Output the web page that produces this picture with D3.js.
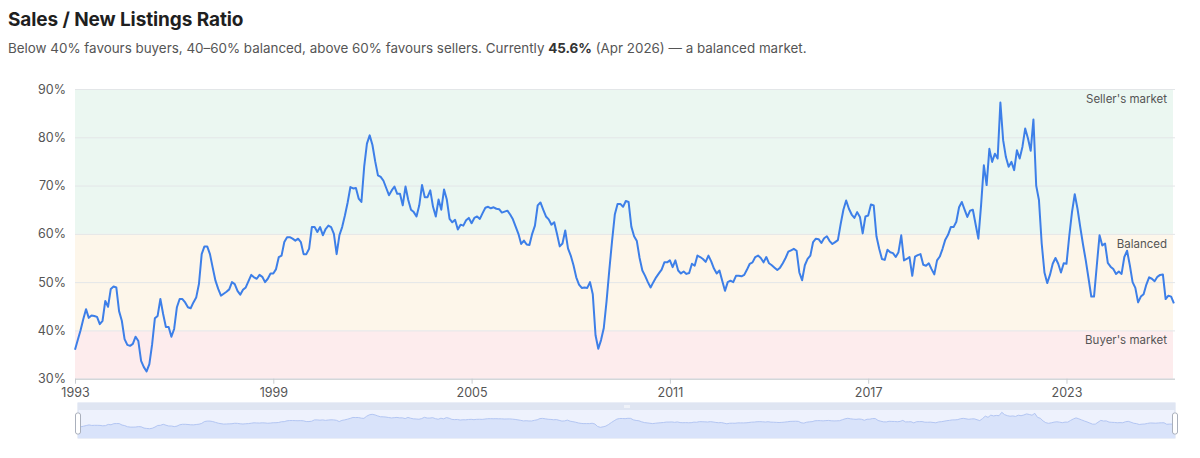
<!DOCTYPE html>
<html>
<head>
<meta charset="utf-8">
<script src="https://cdn.jsdelivr.net/npm/d3@7"></script>
<style>
  body { margin: 0; background: #fff; font-family: Inter, "Helvetica Neue", Arial, sans-serif; }
  h1 { font-size: 19px; font-weight: 700; color: #1f1f1f; margin: 0; position: absolute; left: 8px; top: 8px; letter-spacing: -0.1px; }
  p.sub { font-size: 13.4px; color: #555; margin: 0; position: absolute; left: 8px; top: 40px; }
  p.sub b { color: #333; }
  svg { position: absolute; left: 0; top: 0; }
</style>
</head>
<body>
<h1>Sales / New Listings Ratio</h1>
<p class="sub">Below 40% favours buyers, 40–60% balanced, above 60% favours sellers. Currently <b>45.6%</b> (Apr 2026) — a balanced market.</p>
<svg id="chart"></svg>
<script>
// monthly ratio (%), Jan 1993 .. Apr 2026
var startYear = 1993;
var ratio = [
  36.0, 38.0, 40.0, 42.3, 44.4, 42.6, 43.1, 43.0, 42.8, 41.3, 42.0, 46.1, // 1993
  44.9, 48.6, 49.1, 48.9, 44.0, 42.0, 38.2, 37.0, 36.8, 37.2, 38.7, 37.8, // 1994
  33.7, 32.4, 31.5, 33.0, 37.1, 42.5, 43.0, 46.5, 43.4, 40.7, 40.7, 38.7, // 1995
  40.3, 44.8, 46.5, 46.5, 45.8, 44.8, 44.6, 45.8, 46.8, 49.6, 55.8, 57.4, // 1996
  57.4, 55.8, 53.0, 50.3, 48.6, 47.2, 47.6, 48.0, 48.5, 50.0, 49.6, 48.2, // 1997
  47.4, 48.4, 48.9, 50.2, 51.5, 51.0, 50.7, 51.5, 51.1, 50.0, 50.7, 51.8, // 1998
  51.8, 52.7, 55.2, 55.5, 58.3, 59.3, 59.3, 59.0, 58.6, 59.0, 58.3, 55.8, // 1999
  55.8, 56.9, 61.4, 61.4, 60.4, 61.4, 59.7, 61.0, 61.7, 61.4, 60.0, 55.8, // 2000
  59.7, 61.4, 63.8, 66.5, 69.7, 69.4, 69.5, 67.3, 66.6, 73.9, 78.7, 80.4, // 2001
  78.4, 75.0, 72.1, 71.8, 71.0, 69.5, 68.0, 69.0, 69.8, 68.3, 68.3, 65.9, // 2002
  69.8, 67.0, 65.0, 64.5, 63.6, 65.9, 70.1, 67.6, 67.6, 69.0, 65.6, 63.6, // 2003
  67.1, 65.0, 69.2, 67.1, 63.1, 62.4, 62.9, 60.9, 61.9, 61.7, 62.8, 63.3, // 2004
  62.2, 63.3, 63.6, 63.1, 64.3, 65.4, 65.6, 65.3, 65.5, 65.2, 65.1, 64.4, // 2005
  64.6, 64.8, 64.0, 63.0, 61.5, 60.0, 57.9, 58.6, 57.8, 57.7, 60.0, 61.7, // 2006
  65.9, 66.5, 65.0, 63.6, 63.0, 61.9, 62.4, 60.0, 57.4, 58.0, 60.7, 57.0, // 2007
  55.5, 53.5, 51.0, 49.5, 48.8, 48.9, 48.8, 50.0, 47.5, 39.0, 36.2, 38.0, // 2008
  40.5, 46.0, 52.5, 58.5, 64.0, 66.2, 66.2, 65.6, 66.8, 66.6, 61.5, 59.5, // 2009
  58.5, 55.0, 52.4, 51.3, 50.0, 48.9, 50.0, 51.0, 51.8, 52.6, 54.1, 54.1, // 2010
  54.5, 53.1, 54.5, 52.4, 51.8, 52.2, 51.7, 51.9, 53.8, 53.4, 55.5, 55.2, // 2011
  54.8, 54.2, 55.5, 54.3, 52.8, 51.8, 52.4, 50.3, 48.2, 50.0, 50.3, 50.0, // 2012
  51.3, 51.3, 51.2, 51.5, 52.6, 53.8, 54.1, 55.2, 55.5, 55.0, 54.1, 55.2, // 2013
  53.9, 53.5, 53.0, 52.5, 53.0, 53.9, 55.0, 56.3, 56.6, 56.9, 56.5, 52.0, // 2014
  50.4, 53.5, 54.8, 55.5, 58.3, 59.0, 58.9, 58.1, 59.1, 59.5, 58.5, 57.9, // 2015
  58.3, 58.7, 62.0, 65.0, 66.9, 65.2, 64.0, 63.3, 64.5, 63.5, 60.1, 63.6, // 2016
  63.8, 66.1, 65.9, 59.5, 56.9, 54.8, 54.6, 56.7, 56.2, 56.0, 55.2, 56.2, // 2017
  59.7, 54.5, 54.8, 55.2, 51.3, 55.3, 55.6, 55.8, 53.6, 53.4, 53.9, 52.7, // 2018
  51.6, 54.5, 55.3, 56.9, 58.8, 59.8, 61.4, 61.4, 62.5, 65.5, 66.6, 65.0, // 2019
  63.5, 64.8, 65.0, 62.0, 59.0, 66.0, 74.2, 70.1, 77.6, 74.9, 76.6, 75.6, // 2020
  87.2, 79.4, 75.9, 73.9, 74.9, 73.2, 77.3, 75.6, 78.0, 81.8, 79.8, 77.2, // 2021
  83.7, 70.0, 67.0, 58.0, 52.0, 49.8, 51.5, 53.8, 55.0, 53.8, 52.0, 53.9, // 2022
  53.8, 59.5, 64.5, 68.2, 65.2, 61.4, 57.8, 54.5, 50.8, 47.0, 47.0, 53.4, // 2023
  59.7, 57.6, 58.0, 54.0, 53.2, 52.7, 51.7, 52.2, 51.7, 55.2, 56.5, 53.5, // 2024
  50.0, 48.8, 45.8, 47.0, 47.5, 49.5, 51.0, 50.7, 50.2, 51.1, 51.5, 51.6, // 2025
  46.5, 47.2, 47.0, 45.6                                                  // 2026
];
var yearTicks = [1993, 1999, 2005, 2011, 2017, 2023];
var yTicks = [30, 40, 50, 60, 70, 80, 90];
var zoneNames = ["Buyer's market", "Balanced", "Seller's market"];
var zoneLow = [30, 40, 60];
var zoneHigh = [40, 60, 90];
var zoneFill = ["#fdeced", "#fdf6ea", "#ebf7f1"];

var width = 1200, height = 458;
var margin = { left: 75, right: 25, top: 89, bottom: 80 };
var plotW = width - margin.left - margin.right;
var plotBottom = height - margin.bottom + 0.7;
var fontStack = 'Inter, Helvetica, Arial, sans-serif';

var svg = d3.select('#chart')
  .attr('width', width)
  .attr('height', height);

var x = d3.scaleLinear()
  .domain([0, ratio.length - 0.6])
  .range([margin.left, margin.left + plotW]);

var y = d3.scaleLinear()
  .domain([30, 90])
  .range([plotBottom, margin.top]);

// market zones
svg.selectAll('rect.zone')
  .data(zoneNames)
  .enter()
  .append('rect')
  .attr('class', 'zone')
  .attr('x', x.range()[0])
  .attr('width', plotW - 2)
  .attr('y', function(d, i) { return y(zoneHigh[i]); })
  .attr('height', function(d, i) { return y(zoneLow[i]) - y(zoneHigh[i]); })
  .attr('fill', function(d, i) { return zoneFill[i]; });

// y grid + labels
var yAxis = d3.axisLeft(y)
  .tickValues(yTicks)
  .tickSize(-plotW)
  .tickFormat(function(d) { return d + '%'; });

svg.append('g')
  .attr('transform', 'translate(' + margin.left + ',0)')
  .call(yAxis)
  .call(function(g) {
    g.select('.domain').remove();
    g.selectAll('.tick line').attr('stroke', '#e3e6e8').attr('stroke-width', 1);
    g.selectAll('.tick text')
      .attr('x', -9)
      .attr('fill', '#555')
      .style('font-size', '12.5px')
      .style('font-family', fontStack);
  });

// x axis (years)
var xAxis = d3.axisBottom(x)
  .tickValues(yearTicks.map(function(yr) { return (yr - startYear) * 12; }))
  .tickSize(5)
  .tickFormat(function(d) { return startYear + d / 12; });

svg.append('g')
  .attr('transform', 'translate(0,' + plotBottom + ')')
  .call(xAxis)
  .call(function(g) {
    g.select('.domain').attr('stroke', '#c8ccd0').attr('d', 'M' + margin.left + ',0.5H' + (margin.left + plotW));
    g.selectAll('.tick line').attr('stroke', '#c8ccd0');
    g.selectAll('.tick text')
      .attr('y', 9)
      .attr('fill', '#555')
      .style('font-size', '12.5px')
      .style('font-family', fontStack);
  });

// zone labels
svg.selectAll('text.zoneLabel')
  .data(zoneNames)
  .enter()
  .append('text')
  .attr('class', 'zoneLabel')
  .attr('x', margin.left + plotW - 8)
  .attr('y', function(d, i) { return y(zoneHigh[i]) + 14; })
  .attr('text-anchor', 'end')
  .attr('fill', '#555')
  .style('font-size', '11.5px')
  .style('font-family', fontStack)
  .text(function(d) { return d; });

// ratio line
var line = d3.line()
  .x(function(d, i) { return x(i); })
  .y(function(d) { return y(d); });

svg.append('path')
  .datum(ratio)
  .attr('fill', 'none')
  .attr('stroke', '#3d7fe8')
  .attr('stroke-width', 2)
  .attr('stroke-linejoin', 'round')
  .attr('d', line);

// data zoom slider
var sTop = 403, sBar = 7, sBottom = 438;
var sx = d3.scaleLinear()
  .domain([0, ratio.length - 1])
  .range([78, 1175]);
var sy = d3.scaleLinear()
  .domain([0, 95])
  .range([sBottom, sTop + sBar]);

var slider = svg.append('g');

slider.append('rect')
  .attr('x', 78).attr('y', sTop)
  .attr('width', 1175 - 78).attr('height', sBottom - sTop)
  .attr('fill', '#eef2fd')
  .attr('stroke', '#d6deef');

slider.append('rect')
  .attr('x', 78).attr('y', sTop)
  .attr('width', 1175 - 78).attr('height', sBar)
  .attr('fill', '#dfe5f2');

var area = d3.area()
  .x(function(d, i) { return sx(i); })
  .y0(sBottom)
  .y1(function(d) { return sy(d); });

slider.append('path')
  .datum(ratio)
  .attr('fill', '#d9e3fa')
  .attr('d', area);

slider.append('path')
  .datum(ratio)
  .attr('fill', 'none')
  .attr('stroke', '#b3c6f3')
  .attr('stroke-width', 1)
  .attr('d', d3.line().x(function(d, i) { return sx(i); }).y(function(d) { return sy(d); }));

// grip in the top bar
slider.selectAll('line.grip')
  .data([-2, 0, 2])
  .enter()
  .append('line')
  .attr('x1', function(d) { return 627 + d; })
  .attr('x2', function(d) { return 627 + d; })
  .attr('y1', sTop + 2).attr('y2', sTop + 5)
  .attr('stroke', '#fff');

slider.selectAll('rect.handle')
  .data([78, 1175])
  .enter()
  .append('rect')
  .attr('class', 'handle')
  .attr('x', function(d) { return d - 2.5; })
  .attr('y', 413)
  .attr('width', 5)
  .attr('height', 21)
  .attr('rx', 2)
  .attr('fill', '#fff')
  .attr('stroke', '#aab0bc');
</script>
</body>
</html>
